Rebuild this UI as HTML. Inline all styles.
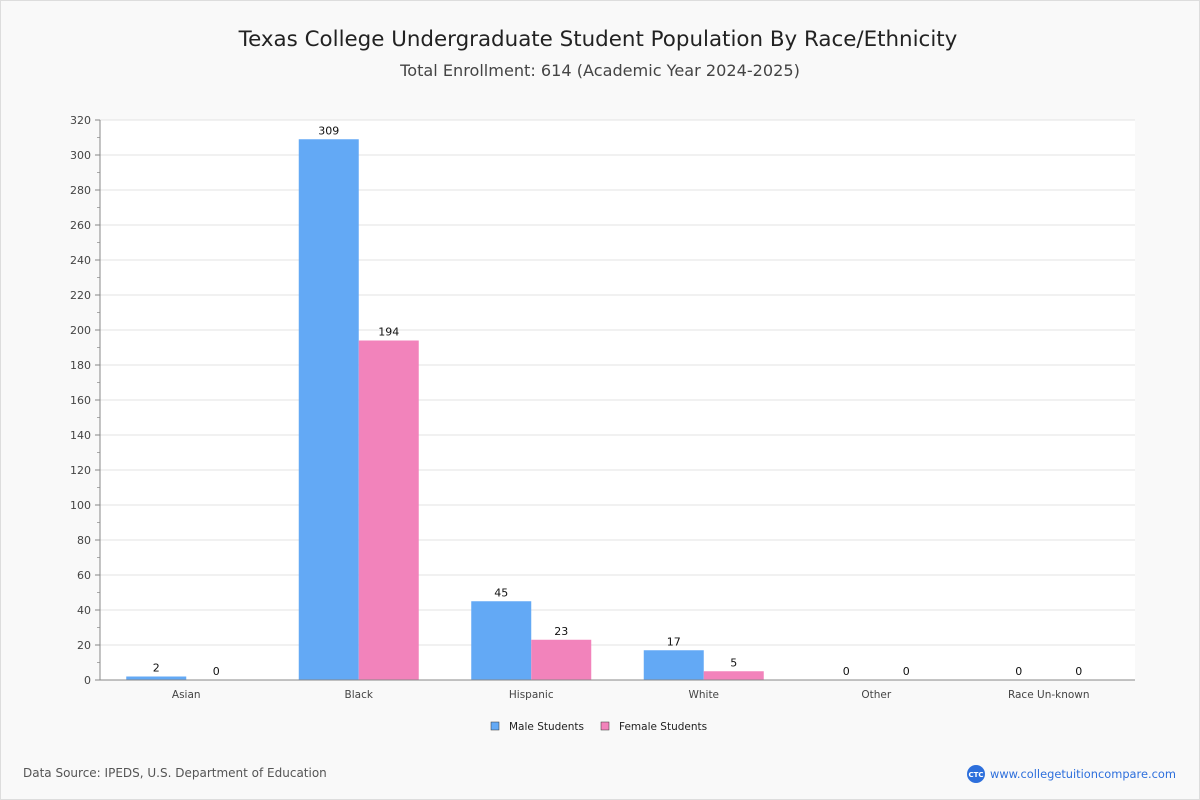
<!DOCTYPE html>
<html><head><meta charset="utf-8"><style>
body{margin:0;background:#fff;}
#wrap{position:relative;width:1198px;height:798px;border:1px solid #ddd;background:#f9f9f9;font-family:"DejaVu Sans","Liberation Sans",sans-serif;}
#chart{position:absolute;left:-1px;top:-1px;}
svg text{font-family:"DejaVu Sans","Liberation Sans",sans-serif;}
</style></head><body>
<div id="wrap">
<svg id="chart" width="1200" height="800">
<text x="598" y="46" text-anchor="middle" font-size="21.4" fill="#222">Texas College Undergraduate Student Population By Race/Ethnicity</text>
<text x="600" y="76" text-anchor="middle" font-size="16.1" fill="#444">Total Enrollment: 614 (Academic Year 2024-2025)</text>
<rect x="100" y="120" width="1035" height="560" fill="#fff"/>
<g id="grid"></g><g id="bars"></g><g id="axes"></g>
<g>
<rect x="491" y="722" width="8" height="8" fill="#63a9f5" stroke="#333" stroke-width="0.5"/>
<text x="509" y="730" font-size="10.5" fill="#222">Male Students</text>
<rect x="601" y="722" width="8" height="8" fill="#f283bb" stroke="#333" stroke-width="0.5"/>
<text x="619" y="730" font-size="10.5" fill="#222">Female Students</text>
</g>
<text x="23" y="777" font-size="12" fill="#555">Data Source: IPEDS, U.S. Department of Education</text>
<circle cx="976" cy="774" r="9" fill="#2d6fdc"/>
<text x="976" y="777" text-anchor="middle" font-size="7" fill="#fff" font-weight="bold">CTC</text>
<text x="990" y="778" font-size="11.4" fill="#2d6fdc">www.collegetuitioncompare.com</text>
</svg>
</div>
<script>
const categories=["Asian","Black","Hispanic","White","Other","Race Un-known"];
const maleValues=[2,309,45,17,0,0];
const femaleValues=[0,194,23,5,0,0];
const yTicks=[0,20,40,60,80,100,120,140,160,180,200,220,240,260,280,300,320];
const NS="http://www.w3.org/2000/svg";
const x0=100,x1=1135,yTop=120,yBot=680,yMax=320;
const y=v=>yBot-(v/yMax)*(yBot-yTop);
const band=(x1-x0)/categories.length;
const bw=60;
function mk(tag,attrs,parent){const e=document.createElementNS(NS,tag);for(const k in attrs)e.setAttribute(k,attrs[k]);parent.appendChild(e);return e;}
const grid=document.getElementById('grid'),bars=document.getElementById('bars'),axes=document.getElementById('axes');
yTicks.forEach(t=>{
  if(t>0){const g=mk('line',{x1:x0,x2:x1,y1:y(t),y2:y(t),stroke:'#e3e3e3'},grid);
  
  }
  const tk=mk('line',{x1:x0-5,x2:x0,y1:y(t),y2:y(t),stroke:'#888'},axes);
  
  
  if(t+10<yMax){const m=mk('line',{x1:x0-3,x2:x0,y1:y(t+10),y2:y(t+10),stroke:'#aaa'},axes);
  
  }
  const tx=mk('text',{x:x0-9,y:y(t)+4,'text-anchor':'end','font-size':11,fill:'#444'},axes);
  tx.textContent=t;
  
  
});
const ya=mk('line',{x1:x0,x2:x0,y1:yTop,y2:yBot,stroke:'#888'},axes);


const xa=mk('line',{x1:x0,x2:x1,y1:yBot,y2:yBot,stroke:'#888'},axes);


categories.forEach((c,i)=>{
  const cx=x0+band*i+band/2;
  [[maleValues[i],'#63a9f5',cx-bw,'male'],[femaleValues[i],'#f283bb',cx,'female']].forEach(([v,col,bx,s])=>{
    const r=mk('rect',{x:bx,y:y(v),width:bw,height:yBot-y(v),fill:col},bars);
    
    
    const l=mk('text',{x:bx+bw/2,y:y(v)-5,'text-anchor':'middle','font-size':11,fill:'#111'},bars);
    l.textContent=v;
    
    
  });
  const xl=mk('text',{x:cx,y:698,'text-anchor':'middle','font-size':10.5,fill:'#444'},axes);
  xl.textContent=c;
  
  
});
</script>
</body></html>
